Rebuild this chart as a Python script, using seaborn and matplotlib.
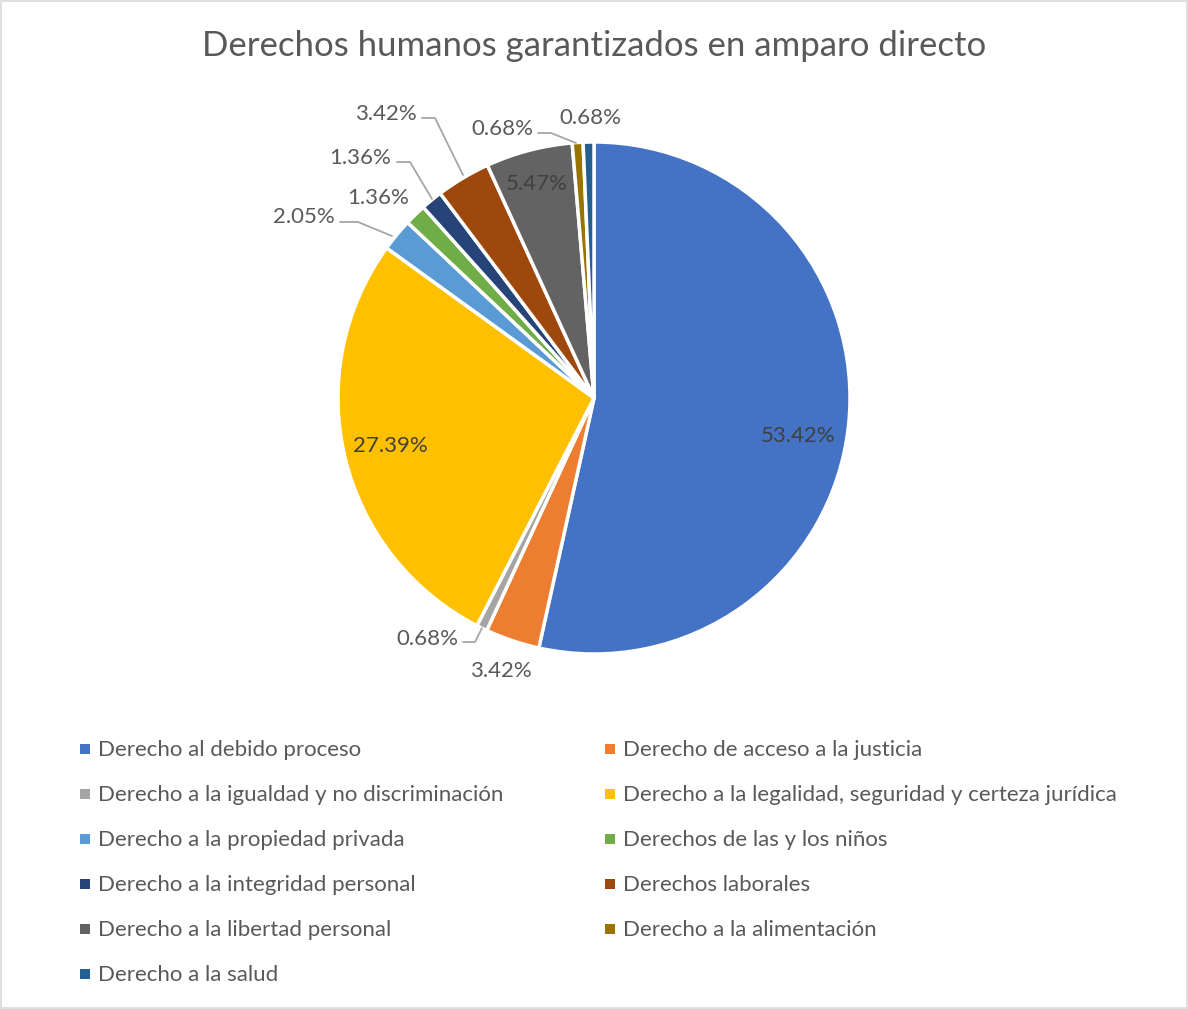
import matplotlib
matplotlib.use("Agg")
import matplotlib.pyplot as plt
import seaborn as sns
from matplotlib.patches import Rectangle

sns.set_theme(style="white")
plt.rcParams["font.family"] = ["Lato", "DejaVu Sans"]

# Data
categories = [
    "Derecho al debido proceso",
    "Derecho de acceso a la justicia",
    "Derecho a la igualdad y no discriminación",
    "Derecho a la legalidad, seguridad y certeza jurídica",
    "Derecho a la propiedad privada",
    "Derechos de las y los niños",
    "Derecho a la integridad personal",
    "Derechos laborales",
    "Derecho a la libertad personal",
    "Derecho a la alimentación",
    "Derecho a la salud",
]
percentages = [53.42, 3.42, 0.68, 27.39, 2.05, 1.36, 1.36, 3.42, 5.47, 0.68, 0.68]
colors = ["#4472C4", "#ED7D31", "#A5A5A5", "#FFC000", "#5B9BD5", "#70AD47",
          "#264478", "#9E480E", "#636363", "#997300", "#255E91"]
title = "Derechos humanos garantizados en amparo directo"

W, H = 1188, 1009
fig = plt.figure(figsize=(W / 100, H / 100), dpi=100)
ax = fig.add_axes([0, 0, 1, 1])

# pixel-space frame: y grows downwards
cx, cy, r = 594, 398, 256

pal = sns.color_palette(colors)
wedges, _ = ax.pie(percentages, colors=pal, startangle=-90, counterclock=True,
                   center=(cx, cy), radius=r, frame=True,
                   wedgeprops=dict(edgecolor="white", linewidth=2.5))
ax.set_xlim(0, W)
ax.set_ylim(H, 0)
ax.set_aspect("equal")
ax.axis("off")

txt = "#595959"
dark = "#404040"
fs_lab = 16

# label text positions (pixels) and optional leader line paths
label_layout = [
    ((798, 436), None, dark),
    ((501, 671), None, txt),
    ((427, 639), [(463, 642), (475, 642), (482, 628)], txt),
    ((390, 446), None, dark),
    ((304, 217), [(340, 222), (358, 222), (392, 236)], txt),
    ((378, 198), None, txt),
    ((360, 158), [(397, 162), (410, 162), (432, 199)], txt),
    ((386, 114), [(422, 118), (435, 118), (463, 175)], txt),
    ((537, 184), None, dark),
    ((502, 129), [(538, 133), (551, 133), (576, 143)], txt),
    ((590, 118), None, txt),
]
for val, (pos, path, col) in zip(percentages, label_layout):
    ax.text(pos[0], pos[1], f"{val:.2f}%", ha="center", va="center",
            fontsize=fs_lab, color=col)
    if path:
        xs, ys = zip(*path)
        ax.plot(xs, ys, color="#A6A6A6", lw=1.3)

ax.text(W / 2, 46, title, ha="center", va="center", fontsize=25, color=txt)

# legend in two columns, row-major order
for i, (name, c) in enumerate(zip(categories, colors)):
    row, col = divmod(i, 2)
    x0 = 85 if col == 0 else 610
    y0 = 749 + row * 45
    ax.add_patch(Rectangle((x0 - 5, y0 - 5), 10, 10, facecolor=c, edgecolor="none"))
    ax.text(x0 + 13, y0 + 1, name, ha="left", va="center", fontsize=16, color=txt)

# outer border
ax.add_patch(Rectangle((0.5, 0.5), W - 1.5, H - 1.5, fill=False,
                       edgecolor="#D9D9D9", lw=1.2))

fig.savefig("out.png", dpi=100)
